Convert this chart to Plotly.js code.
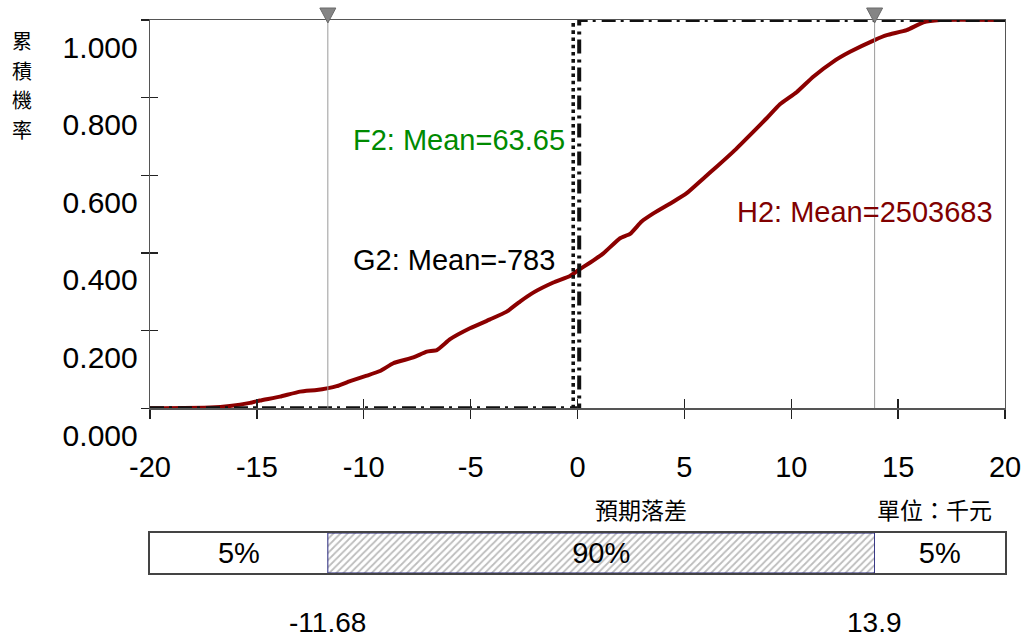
<!DOCTYPE html>
<html>
<head>
<meta charset="utf-8">
<script src="https://cdn.plot.ly/plotly-3.0.1.min.js"></script>
<style>
  html, body { margin: 0; padding: 0; background: #fff; }
  #chart { width: 1026px; height: 637px; }
</style>
</head>
<body>
<div id="chart"></div>
<script>
// Axis range of the expected-shortfall chart (thousands)
const xRange = [-20, 20];
const xTicks = [-20, -15, -10, -5, 0, 5, 10, 15, 20];
const yTicks = [0, 0.2, 0.4, 0.6, 0.8, 1.0];

// H2: simulated cumulative distribution
const h2X = [-20, -17.19, -16.26, -15.32, -14.85, -13.92, -12.98, -12.20, -11.66, -11.27,
             -10.64, -9.86, -9.24, -8.62, -7.68, -7.05, -6.58, -5.96, -5.03, -4.09,
             -3.31, -2.69, -2.07, -1.13, -0.35, 0.04, 0.58, 1.21, 1.99, 2.46,
             3.00, 3.55, 4.48, 5.11, 5.89, 6.51, 7.29, 8.22, 8.85, 9.47,
             10.25, 11.03, 11.97, 12.75, 13.92, 14.47, 15.40, 16.18, 16.96, 20];
const h2P = [0, 0.002, 0.006, 0.014, 0.020, 0.030, 0.043, 0.047, 0.052, 0.057,
             0.070, 0.084, 0.096, 0.116, 0.131, 0.146, 0.150, 0.178, 0.206, 0.229,
             0.249, 0.275, 0.298, 0.324, 0.341, 0.356, 0.375, 0.399, 0.438, 0.449,
             0.481, 0.502, 0.532, 0.554, 0.592, 0.622, 0.661, 0.712, 0.747, 0.783,
             0.814, 0.854, 0.893, 0.918, 0.949, 0.961, 0.974, 0.994, 1.0, 1.0];

// G2 and F2: step distributions around zero
const g2X = [-20, 0.08, 0.08, 20];
const g2P = [0, 0, 1, 1];
const f2X = [-0.2, -0.2];
const f2P = [0, 1];

// 5% / 95% quantiles and the band shares between them
const quantiles = [-11.68, 13.9];
const bandLabels = ['5%', '90%', '5%'];

// Series captions
const seriesNames = ['F2', 'G2', 'H2'];
const seriesMeans = ['63.65', '-783', '2503683'];

// Axis titles
const yTitleChars = ['累', '積', '機', '率'];
const xTitle = '預期落差';
const unitNote = '單位：千元';

const latin = 'Liberation Sans, Arial, sans-serif';
const cjk = 'Noto Sans CJK TC, Noto Sans CJK SC, sans-serif';

const bandStarts = [xRange[0], quantiles[0], quantiles[1]];
const bandEnds = [quantiles[0], quantiles[1], xRange[1]];

const bandTraces = bandLabels.map((lab, i) => {
  const hatched = i === 1;
  return {
    type: 'bar', orientation: 'h', xaxis: 'x2', yaxis: 'y2',
    y: [0], base: [bandStarts[i]], x: [bandEnds[i] - bandStarts[i]],
    text: [lab],
    textposition: 'inside', insidetextanchor: 'middle', constraintext: 'none',
    insidetextfont: { family: latin, size: 29, color: '#000' },
    marker: hatched ? {
      color: '#ffffff',
      line: { color: '#23237a', width: 1 },
      pattern: { shape: '/', fgcolor: '#7a7a7a', bgcolor: '#ffffff', size: 5, solidity: 0.35, fillmode: 'overlay' }
    } : { color: '#ffffff', line: { color: '#ffffff', width: 0 } },
    hoverinfo: 'skip', showlegend: false
  };
});

const traces = [
  // quantile guide lines
  ...quantiles.map(q => ({
    type: 'scatter', mode: 'lines', x: [q, q], y: [0, 1],
    xaxis: 'x3', yaxis: 'y3',
    line: { color: '#9a9a9a', width: 1 }, hoverinfo: 'skip', showlegend: false
  })),
  {
    type: 'scatter', mode: 'lines', x: h2X, y: h2P, name: 'H2',
    line: { color: '#8b0000', width: 4, shape: 'spline', smoothing: 0.4 }, showlegend: false
  },
  {
    type: 'scatter', mode: 'lines', x: g2X, y: g2P, name: 'G2',
    line: { color: '#111', width: 4, dash: '14px,5px,3px,6px' }, showlegend: false
  },
  {
    type: 'scatter', mode: 'lines', x: f2X, y: f2P, name: 'F2',
    line: { color: '#111', width: 3.6, dash: 'dot' }, showlegend: false
  },
  ...bandTraces
];

const captionColors = ['#008a00', '#000000', '#800000'];
const captionPos = [[-10.6, 0.691], [-10.6, 0.382], [7.35, 0.5055]];

// pixel rows converted to paper units (plot area starts 20px from the top, 553px tall)
const plotTop = 20, plotH = 553;
const pxToPaperY = py => 1 - (py - plotTop) / plotH;

const annotations = [
  ...seriesNames.map((n, i) => ({
    text: n + ': Mean=' + seriesMeans[i],
    x: captionPos[i][0], y: captionPos[i][1], xref: 'x', yref: 'y',
    xanchor: 'left', yanchor: 'middle', showarrow: false,
    font: { family: latin, size: 29, color: captionColors[i] }
  })),
  ...quantiles.map(q => ({
    text: String(q), x: q, xref: 'x2', y: pxToPaperY(622), yref: 'paper',
    xanchor: 'center', yanchor: 'middle', showarrow: false,
    font: { family: latin, size: 28, color: '#000' }
  })),
  {
    text: xTitle, x: 0.574, y: pxToPaperY(509), xref: 'paper', yref: 'paper',
    xanchor: 'center', yanchor: 'middle', showarrow: false,
    font: { family: cjk, size: 23, color: '#000' }
  },
  {
    text: unitNote, x: 0.917, y: pxToPaperY(509), xref: 'paper', yref: 'paper',
    xanchor: 'center', yanchor: 'middle', showarrow: false,
    font: { family: cjk, size: 23, color: '#000' }
  },
  ...yTitleChars.map((c, i) => ({
    text: c, x: -0.1497, y: pxToPaperY(41 + 29.5 * i), xref: 'paper', yref: 'paper',
    xanchor: 'center', yanchor: 'middle', showarrow: false,
    font: { family: cjk, size: 20, color: '#000' }
  }))
];

// quantile markers above the frame
const shapes = quantiles.map(q => ({
  type: 'path', xref: 'x', yref: 'paper',
  xsizemode: 'pixel', ysizemode: 'pixel', xanchor: q, yanchor: 1,
  path: 'M-8,12 L8,12 L0,-3 Z',
  fillcolor: '#858585', line: { color: '#6a6a6a', width: 1 }, layer: 'above'
}));

const mainDomain = [0.2978, 1];
const axisLine = { showline: true, linecolor: '#555', linewidth: 1.3, mirror: true };

const layout = {
  width: 1026, height: 637,
  margin: { l: 150, r: 21, t: 20, b: 64 },
  paper_bgcolor: '#fff', plot_bgcolor: '#fff',
  showlegend: false, bargap: 0, barmode: 'overlay',
  font: { family: latin, color: '#000' },
  xaxis: {
    domain: [0, 1], anchor: 'y', range: xRange,
    tickmode: 'array', tickvals: xTicks, ticktext: xTicks.map(String),
    ticks: 'outside', ticklen: 9, tickwidth: 1.3, tickcolor: '#222',
    ticklabelstandoff: 24,
    tickfont: { family: latin, size: 29, color: '#000' },
    showgrid: false, zeroline: false, ...axisLine
  },
  yaxis: {
    domain: mainDomain, anchor: 'x', range: [0, 1],
    tickmode: 'array', tickvals: yTicks, ticktext: yTicks.map(v => v.toFixed(3)),
    ticks: 'outside', ticklen: 8, tickwidth: 1.3, tickcolor: '#222',
    ticklabelshift: 27, ticklabelstandoff: -3,
    tickfont: { family: latin, size: 30, color: '#000' },
    showgrid: false, zeroline: false, ...axisLine
  },
  // inner halves of the crossing tick marks
  xaxis3: {
    overlaying: 'x', anchor: 'y3', range: xRange, tickvals: xTicks,
    ticks: 'inside', ticklen: 9, tickwidth: 1.3, tickcolor: '#222',
    showticklabels: false, showgrid: false, zeroline: false, showline: false
  },
  yaxis3: {
    overlaying: 'y', anchor: 'x3', range: [0, 1], tickvals: yTicks,
    ticks: 'inside', ticklen: 8, tickwidth: 1.3, tickcolor: '#222',
    showticklabels: false, showgrid: false, zeroline: false, showline: false
  },
  xaxis2: {
    domain: [0, 1], anchor: 'y2', range: xRange,
    showticklabels: false, ticks: '', showgrid: false, zeroline: false,
    showline: true, linecolor: '#444', linewidth: 2, mirror: true
  },
  yaxis2: {
    domain: [0, 0.0723], anchor: 'x2', range: [-0.5, 0.5],
    showticklabels: false, ticks: '', showgrid: false, zeroline: false,
    showline: true, linecolor: '#444', linewidth: 2, mirror: true
  },
  annotations: annotations,
  shapes: shapes
};

Plotly.newPlot('chart', traces, layout, { staticPlot: true, displayModeBar: false });
</script>
</body>
</html>
